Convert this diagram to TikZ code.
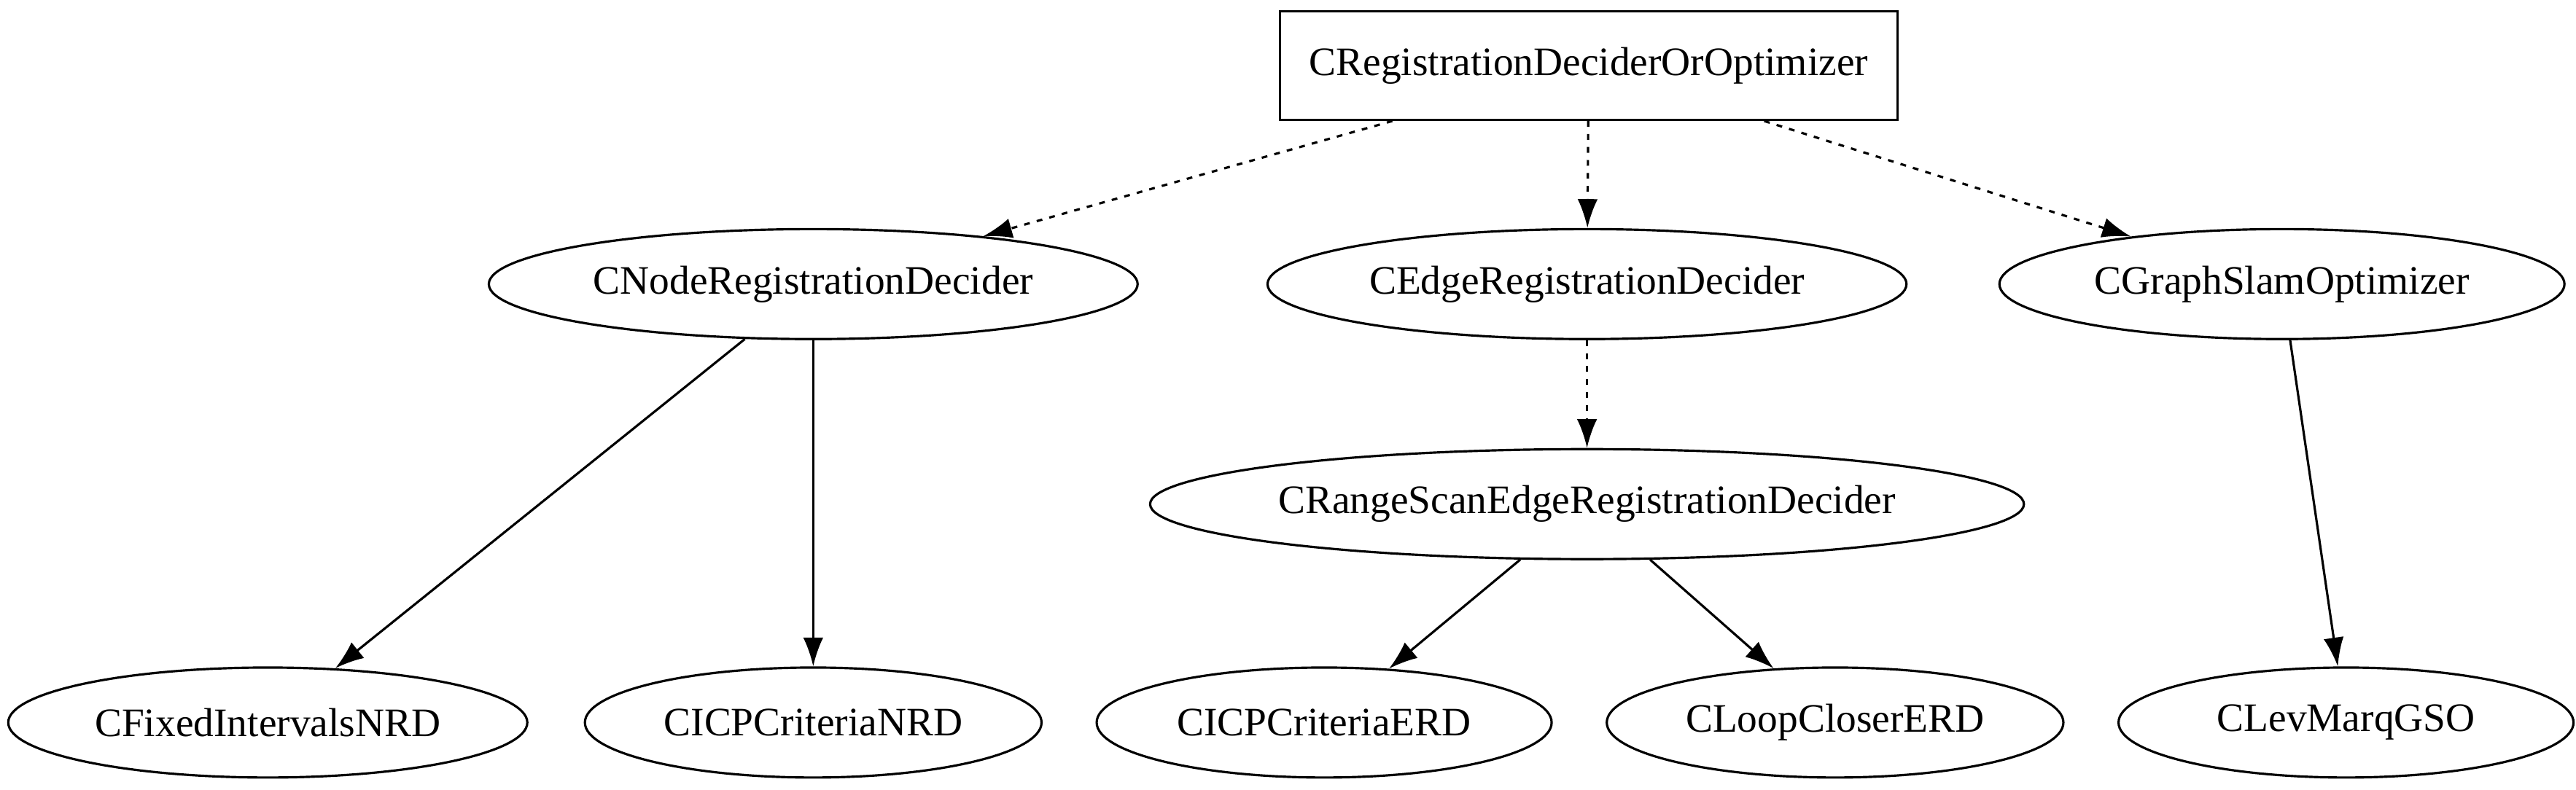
\documentclass[tikz,border=0pt]{standalone}
\usepackage{fontspec}
\setmainfont{Liberation Serif}
\usepackage{tikz}
\usetikzlibrary{shapes.geometric, arrows.meta, positioning}

\tikzset{
  classbox/.style={draw, line width=0.8pt, rectangle, inner sep=0pt,
    minimum width=7.52cm, minimum height=1.32cm, font=\fontsize{14}{17}\selectfont},
  classell/.style={draw, line width=0.8pt, ellipse, inner sep=0pt,
    minimum height=1.34cm, font=\fontsize{14}{17}\selectfont},
  inherit/.style={line width=0.8pt, -{Latex[length=10pt, width=7pt]}},
  iface/.style={inherit, dash pattern=on 2pt off 2.5pt},
}

\begin{document}
\begin{tikzpicture}[x=0.02cm, y=-0.02cm]
  \useasboundingbox (0,0) rectangle (1568,481);
  % base class
  \node[classbox] (regopt) at (967,40) {CRegistrationDeciderOrOptimizer};
  % deciders and optimizer
  \node[classell, minimum width=7.9cm] (nrd) at (495,173) {CNodeRegistrationDecider};
  \node[classell, minimum width=7.78cm] (erd) at (966,173) {CEdgeRegistrationDecider};
  \node[classell, minimum width=6.88cm] (gso) at (1389,173) {CGraphSlamOptimizer};
  \node[classell, minimum width=10.64cm] (rserd) at (966,307) {CRangeScanEdgeRegistrationDecider};
  % concrete classes
  \node[classell, minimum width=6.32cm] (fixednrd) at (163,440) {CFixedIntervalsNRD};
  \node[classell, minimum width=5.56cm] (icpnrd) at (495,440) {CICPCriteriaNRD};
  \node[classell, minimum width=5.54cm] (icperd) at (806,440) {CICPCriteriaERD};
  \node[classell, minimum width=5.56cm] (looperd) at (1117,440) {CLoopCloserERD};
  \node[classell, minimum width=5.54cm] (levmarqgso) at (1428,440) {CLevMarqGSO};

  \draw[iface] (regopt) -- (nrd);
  \draw[iface] (regopt) -- (erd);
  \draw[iface] (regopt) -- (gso);
  \draw[iface] (erd) -- (rserd);
  \draw[inherit] (nrd) -- (fixednrd);
  \draw[inherit] (nrd) -- (icpnrd);
  \draw[inherit] (rserd) -- (icperd);
  \draw[inherit] (rserd) -- (looperd);
  \draw[inherit] (gso) -- (levmarqgso);
\end{tikzpicture}
\end{document}
